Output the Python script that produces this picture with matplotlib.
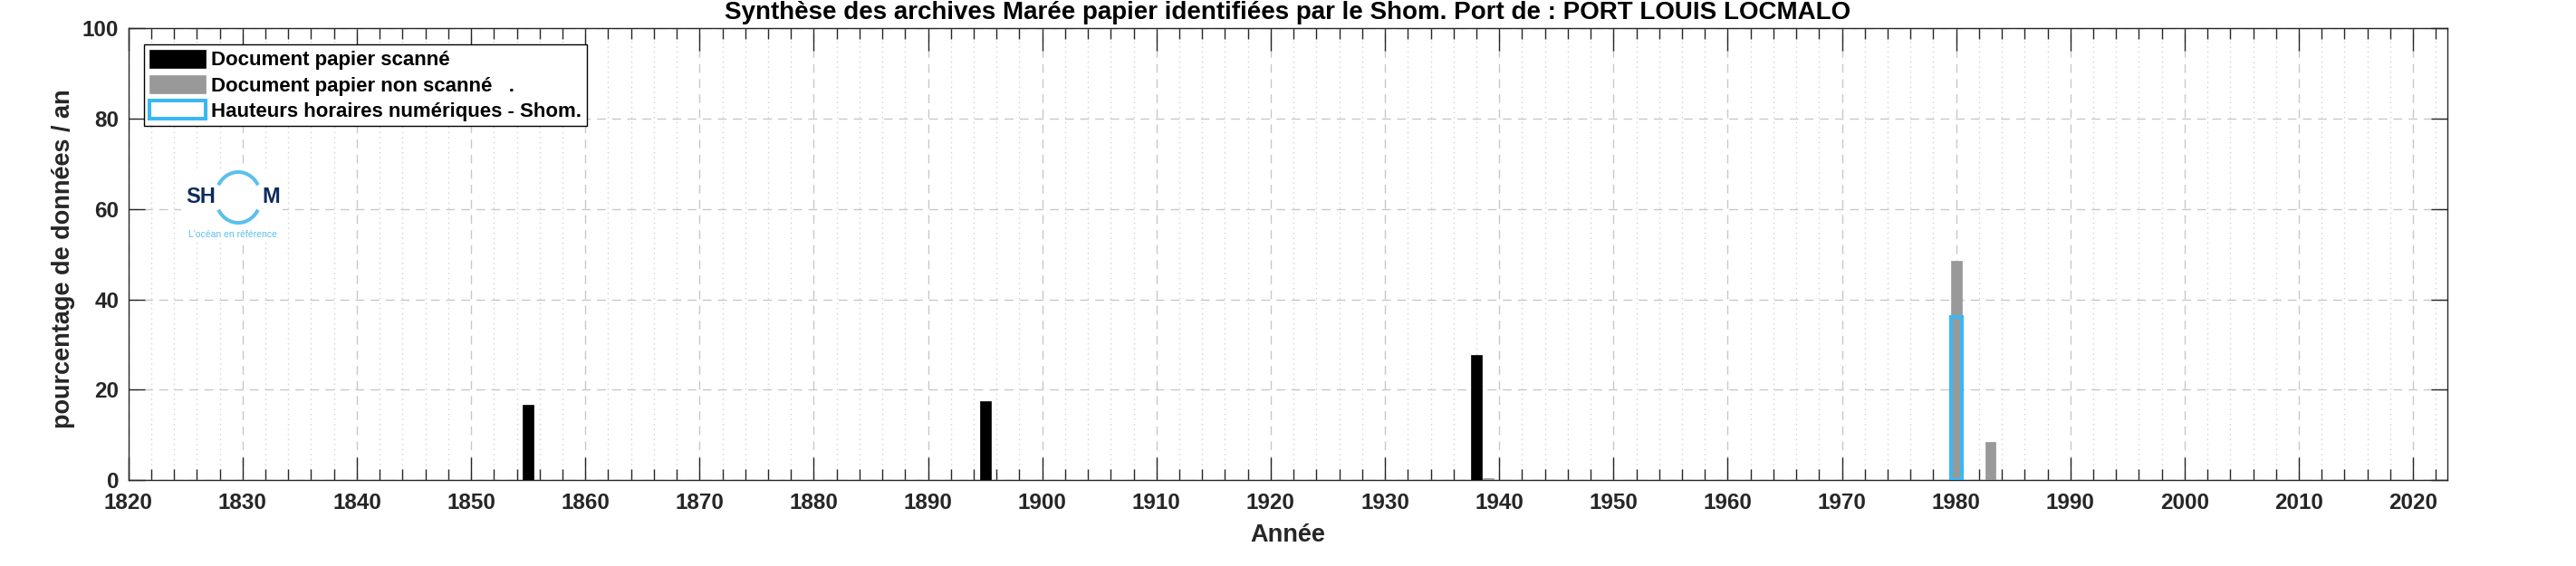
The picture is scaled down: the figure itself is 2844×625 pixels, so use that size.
#!/usr/bin/env python3

import matplotlib
matplotlib.use("Agg")
import matplotlib.pyplot as plt
from matplotlib.patches import Arc
from matplotlib.ticker import MultipleLocator

# data
years_scanned = [1855, 1895, 1938]
pct_scanned = [16.6, 17.5, 27.7]
years_unscanned = [1939, 1980, 1983]
pct_unscanned = [0.4, 48.6, 8.4]
years_numeric = [1980]
pct_numeric = [36.1]

labels = ['Document papier scanné',
          'Document papier non scanné   .',
          'Hauteurs horaires numériques - Shom.']
title = "Synthèse des archives Marée papier identifiées par le Shom. Port de : PORT LOUIS LOCMALO"

plt.rcParams['font.family'] = ['Liberation Sans', 'DejaVu Sans']
plt.rcParams['font.weight'] = 'bold'

W, H = 2844, 625
fig = plt.figure(figsize=(W / 100, H / 100), dpi=100)
ax = fig.add_axes([141.7 / W, 1 - 530 / H, (2702 - 141.7) / W, (530 - 31.3) / H])

ax.set_axisbelow(True)
ax.bar(years_scanned, pct_scanned, width=0.95, color='black', edgecolor='black',
       linewidth=0.5, label=labels[0], zorder=3)
ax.bar(years_unscanned, pct_unscanned, width=0.95, color='#999999', edgecolor='#999999',
       linewidth=0.5, label=labels[1], zorder=3)
ax.bar(years_numeric, pct_numeric, width=0.95, facecolor='none', edgecolor='#3ab8f5',
       linewidth=2.9, label=labels[2], zorder=4)

ax.set_xlim(1820, 2023)
ax.set_ylim(0, 100)
ax.xaxis.set_major_locator(MultipleLocator(10))
ax.xaxis.set_minor_locator(MultipleLocator(2))
ax.yaxis.set_major_locator(MultipleLocator(20))

ax.grid(which='major', axis='both', color='#c8c8c8', linestyle=(0, (7, 5)), linewidth=1.0)
ax.grid(which='minor', axis='x', color='#d2d2d2', linestyle=(0, (1, 3)), linewidth=1.0)

ax.tick_params(axis='both', which='both', direction='in', top=True, right=True,
               colors='#262626', labelsize=17.5)
ax.tick_params(axis='x', which='major', length=18, width=1, pad=10)
ax.tick_params(axis='x', which='minor', length=8.5, width=1)
ax.tick_params(axis='y', which='major', length=13, width=1, pad=7.5)
for lab in ax.get_xticklabels() + ax.get_yticklabels():
    lab.set_fontweight('bold')
for sp in ax.spines.values():
    sp.set_color('#262626')
    sp.set_linewidth(1.0)

ax.set_title(title, fontsize=20, fontweight='bold', color='black', pad=7.5)
ax.set_xlabel('Année', fontsize=19.5, fontweight='bold', color='#262626')
ax.xaxis.set_label_coords(0.5, -0.096)
ax.set_ylabel('pourcentage de données / an', fontsize=19.5, fontweight='bold', color='#262626')
ax.yaxis.set_label_coords(-0.0228, 0.49)

leg = ax.legend(loc='upper left', bbox_to_anchor=((159.3 - 141.7) / 2560.3, (530 - 49.3) / 498.7),
                borderaxespad=0, fontsize=16, handlelength=2.8, handleheight=1.0,
                handletextpad=0.27, labelspacing=0.25, borderpad=0.25,
                fancybox=False, framealpha=1, edgecolor='black')
leg.get_frame().set_linewidth(1.0)
for t in leg.get_texts():
    t.set_fontweight('bold')
    t.set_color('black')

# Shom logo, drawn in pixel units
lx0, lx1, ly0, ly1 = 200, 312, 186, 268
lax = fig.add_axes([lx0 / W, 1 - ly1 / H, (lx1 - lx0) / W, (ly1 - ly0) / H])
lax.set_xlim(lx0, lx1)
lax.set_ylim(ly1, ly0)
lax.set_facecolor('white')
for sp in lax.spines.values():
    sp.set_visible(False)
lax.set_xticks([])
lax.set_yticks([])
logo_blue = '#5bc0eb'
lax.add_patch(Arc((263, 218), 50, 56, theta1=32, theta2=148, color=logo_blue, linewidth=2.9))
lax.add_patch(Arc((263, 218), 50, 56, theta1=212, theta2=328, color=logo_blue, linewidth=2.9))
lax.text(238.5, 218, 'SH', ha='right', va='center', fontsize=17, fontweight='bold',
         color='#0d2b5c')
lax.text(289.5, 218, 'M', ha='left', va='center', fontsize=17, fontweight='bold',
         color='#0d2b5c')
lax.text(257, 259, "L'océan en référence", ha='center', va='center', fontsize=7.5,
         fontweight='normal', color=logo_blue)

fig.savefig('out.png', dpi=100)
